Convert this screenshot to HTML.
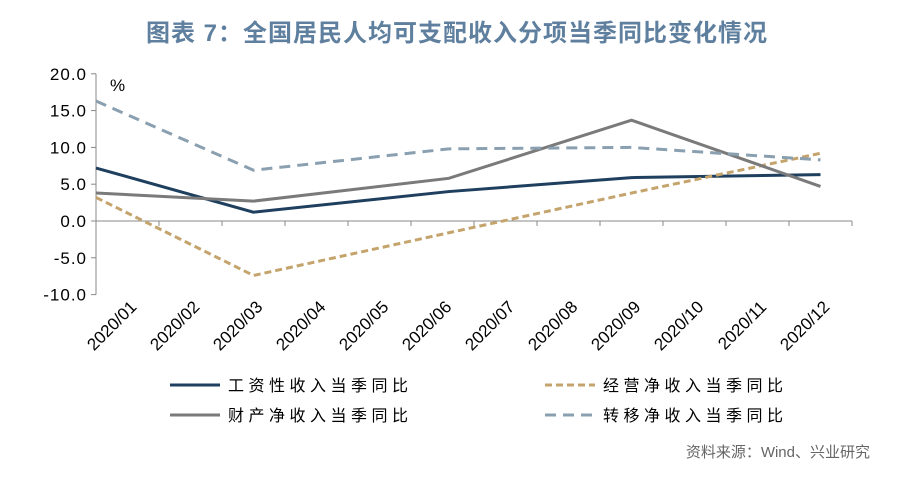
<!DOCTYPE html>
<html><head><meta charset="utf-8"><style>
body{margin:0;background:#fff;}
svg text{font-family:"Liberation Sans","Noto Sans CJK SC",sans-serif;}
</style></head><body>
<svg width="900" height="480" xmlns="http://www.w3.org/2000/svg">
<text x="457" y="41" text-anchor="middle" font-size="24" font-weight="bold" fill="#5f7f9f" letter-spacing="1">图表 7：全国居民人均可支配收入分项当季同比变化情况</text>
<g id="axes"></g><g id="series"></g>
<text x="110" y="91" font-size="17" fill="#000">%</text>
<g id="legend"></g>
<text x="870" y="457" text-anchor="end" font-size="15" fill="#666">资料来源：Wind、兴业研究</text>
</svg>
<script>
const categories=["2020/01","2020/02","2020/03","2020/04","2020/05","2020/06","2020/07","2020/08","2020/09","2020/10","2020/11","2020/12"];
const yTicks=[20,15,10,5,0,-5,-10];
const pointIdx=[-0.5,2,5.1,8,11];
const wage=[7.2,1.2,4.0,5.9,6.3];
const business=[3.2,-7.4,-1.6,3.8,9.2];
const property=[3.8,2.7,5.8,13.7,4.7];
const transfer=[16.3,6.9,9.8,10.0,8.3];
const NS="http://www.w3.org/2000/svg";
const x0=96,cw=63,yZero=221,perUnit=7.36;
const X=i=>x0+(i+0.5)*cw, Y=v=>yZero-v*perUnit;
function mk(t,a,p){const e=document.createElementNS(NS,t);for(const k in a)e.setAttribute(k,a[k]);p.appendChild(e);return e;}
const ax=document.getElementById('axes');
let yl=mk('line',{x1:x0,y1:Y(20),x2:x0,y2:Y(-10),stroke:'#888','stroke-width':1},ax);


yTicks.forEach(v=>{
 mk('line',{x1:x0-5,y1:Y(v),x2:x0,y2:Y(v),stroke:'#888'},ax);
 const t=mk('text',{x:x0-9,y:Y(v)+6,'text-anchor':'end','font-size':17,fill:'#000','letter-spacing':'1'},ax);
 t.textContent=v.toFixed(1);
 
 
});
let xl=mk('line',{x1:x0,y1:yZero,x2:x0+cw*12,y2:yZero,stroke:'#888'},ax);


categories.forEach((c,i)=>{
 mk('line',{x1:x0+(i+1)*cw,y1:yZero,x2:x0+(i+1)*cw,y2:yZero+5,stroke:'#888'},ax);
 const cx=X(i)+10,cy=308;
 const t=mk('text',{x:cx,y:cy,'text-anchor':'end','font-size':17,fill:'#000',transform:`rotate(-45 ${cx} ${cy})`},ax);
 t.textContent=c;
 
 
});
const S=[
 {name:'wage-income-line',label:'工资性收入当季同比',d:wage,c:'#1f3f5f',dash:null,lx:170,ly:385},
 {name:'business-income-line',label:'经营净收入当季同比',d:business,c:'#c4a46c',dash:'7,4',lx:545,ly:385},
 {name:'property-income-line',label:'财产净收入当季同比',d:property,c:'#7a7a7a',dash:null,lx:170,ly:415},
 {name:'transfer-income-line',label:'转移净收入当季同比',d:transfer,c:'#8aa0b0',dash:'11,7',lx:545,ly:415}];
const sg=document.getElementById('series'),lg=document.getElementById('legend');
S.forEach(s=>{
 const pts=s.d.map((v,j)=>X(pointIdx[j])+','+Y(v)).join(' ');
 const a={points:pts,fill:'none',stroke:s.c,'stroke-width':3};
 if(s.dash)a['stroke-dasharray']=s.dash;
 const p=mk('polyline',a,sg);
 
 
 const la={x1:s.lx,y1:s.ly,x2:s.lx+50,y2:s.ly,stroke:s.c,'stroke-width':3};
 if(s.dash)la['stroke-dasharray']=s.dash;
 const l=mk('line',la,lg);
 
 
 const t=mk('text',{x:s.lx+58,y:s.ly+6,'font-size':16,fill:'#000','letter-spacing':'4.5'},lg);
 t.textContent=s.label;
 
 
});
</script>
</body></html>
